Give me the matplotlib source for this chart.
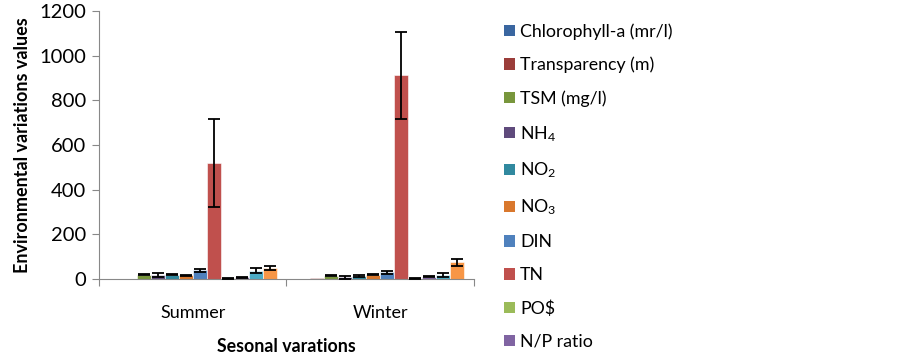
import matplotlib
matplotlib.use("Agg")
import matplotlib.pyplot as plt
from matplotlib.patches import Patch
import numpy as np

plt.rcParams['font.family'] = ['Lato', 'DejaVu Sans']
plt.rcParams['mathtext.fontset'] = 'custom'
plt.rcParams['mathtext.rm'] = 'Lato'
plt.rcParams['mathtext.it'] = 'Lato'
plt.rcParams['mathtext.default'] = 'regular'

categories = ['Summer', 'Winter']
series_names = ['Chlorophyll-a (mr/l)', 'Transparency (m)', 'TSM (mg/l)', 'NH$_4$',
                'NO$_2$', 'NO$_3$', 'DIN', 'TN', 'PO$', 'N/P ratio', '', '']
summer_vals = [1, 2, 20, 19, 19, 16, 40, 518, 4, 8, 38, 49]
summer_err = [0, 0, 3, 9, 3, 3, 7, 197, 2, 2, 11, 10]
winter_vals = [1, 4, 15, 7, 12, 19, 31, 912, 2, 10, 19, 75]
winter_err = [0, 0, 3, 6, 4, 3, 7, 196, 2, 2, 9, 15]
colors = ['#3A66A0', '#9B3D3A', '#78963C', '#5F4A7C', '#31899F', '#D9782D',
          '#4F81BD', '#C0504D', '#9BBB59', '#8064A2', '#4BACC6', '#F79646']
yticks = [0, 200, 400, 600, 800, 1000, 1200]

fig = plt.figure(figsize=(9.03, 3.56), dpi=100)
ax = fig.add_axes([99/903, 1-279/356, (474-99)/903, (279-11)/356])

n = len(series_names)
w = 14/188
start = -0.5 + 10/188
x = np.arange(len(categories))
for i in range(n):
    vals = [summer_vals[i], winter_vals[i]]
    errs = [summer_err[i], winter_err[i]]
    pos = x + start + (i + 0.5) * w
    ax.bar(pos, vals, width=w, color=colors[i], edgecolor='white', linewidth=0.4, zorder=2)
    if max(errs) > 0:
        ax.errorbar(pos, vals, yerr=errs, fmt='none', ecolor='black',
                    elinewidth=1.3, capsize=4, capthick=1.3, zorder=3)

ax.set_xlim(-0.5, 1.5)
ax.set_ylim(0, 1200)
ax.set_yticks(yticks)
ax.set_xticks([-0.5, 0.5, 1.5])
ax.set_xticklabels([])
ax.set_xticks(x, minor=True)
ax.set_xticklabels(categories, minor=True)
ax.tick_params(axis='x', which='minor', length=0, pad=19, labelsize=13)
ax.tick_params(axis='x', which='major', length=5, color='#888888', direction='out')
ax.tick_params(axis='y', length=5, color='#888888', labelsize=14.5, pad=4)
for s in ['top', 'right']:
    ax.spines[s].set_visible(False)
for s in ['left', 'bottom']:
    ax.spines[s].set_color('#888888')

ax.set_ylabel('Environmental variations values', fontsize=13, fontweight='bold', labelpad=6)
ax.set_xlabel('Sesonal varations', fontsize=12.8, fontweight='bold', labelpad=12)

handles = [Patch(facecolor=colors[i], edgecolor='none') for i in range(10)]
fig.legend(handles, series_names[:10], loc='upper left', bbox_to_anchor=(504/903, 1-23/356),
           frameon=False, fontsize=12.8, labelspacing=0.96, handlelength=0.6, handleheight=0.6,
           handletextpad=0.3, borderaxespad=0, borderpad=0)

fig.savefig('out.png', dpi=100)
